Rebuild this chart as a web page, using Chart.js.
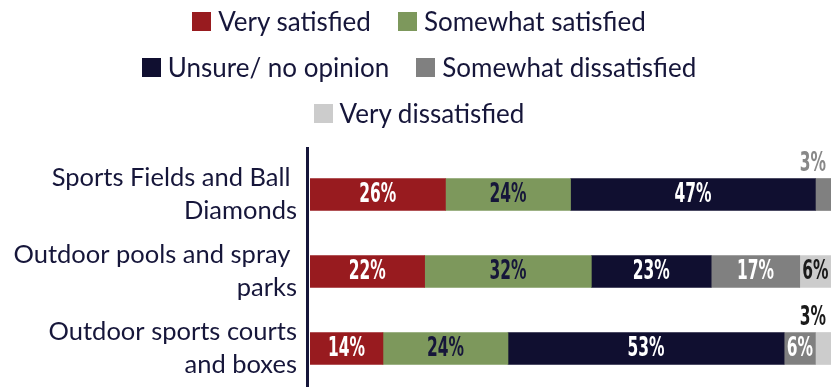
<!DOCTYPE html>
<html>
<head>
<meta charset="utf-8">
<script src="https://cdn.jsdelivr.net/npm/chart.js@4.4.1/dist/chart.umd.min.js"></script>
<style>
    html, body { margin: 0; padding: 0; background: #fff; }
    #wrap { position: relative; width: 838px; height: 387px; overflow: hidden; }
    #legend {
        position: absolute; top: -2px; left: 50%; transform: translateX(-50%);
        width: 660px; display: flex; flex-wrap: wrap; justify-content: center;
        column-gap: 27px; font: 26px Lato, sans-serif; color: #16163a; line-height: 46px;
    }
    .item { display: flex; align-items: center; white-space: nowrap; }
    .swatch { width: 19px; height: 19px; margin-right: 7px; }
    #chart { position: absolute; left: 0; top: 0; }
</style>
</head>
<body>
<div id="wrap">
    <canvas id="chart" width="838" height="387"></canvas>
    <div id="legend"></div>
</div>
<script>
const categories = [
    ['Sports Fields and Ball ', 'Diamonds'],
    ['Outdoor pools and spray ', 'parks'],
    ['Outdoor sports courts', 'and boxes']
];
const seriesNames = ['Very satisfied', 'Somewhat satisfied', 'Unsure/ no opinion', 'Somewhat dissatisfied', 'Very dissatisfied'];
const verySatisfied = [26, 22, 14];
const somewhatSatisfied = [24, 32, 24];
const unsure = [47, 23, 53];
const somewhatDissatisfied = [3, 17, 6];
const veryDissatisfied = [0, 6, 3];

const colors = ['#981b1f', '#7d985c', '#100f30', '#808080', '#cccccc'];
const labelColors = ['#ffffff', '#16163a', '#ffffff', '#ffffff', '#1a1a1a'];
const outsideColors = ['#981b1f', '#7d985c', '#100f30', '#888888', '#1a1a1a'];

const values = [verySatisfied, somewhatSatisfied, unsure, somewhatDissatisfied, veryDissatisfied];

// HTML legend, wraps into three centered rows
const legendEl = document.getElementById('legend');
seriesNames.forEach((name, i) => {
    const item = document.createElement('div');
    item.className = 'item';
    const sw = document.createElement('span');
    sw.className = 'swatch';
    sw.style.background = colors[i];
    item.appendChild(sw);
    item.appendChild(document.createTextNode(name));
    legendEl.appendChild(item);
});

// percentage labels in the middle of each segment, small ones above the bar end
const segmentLabels = {
    id: 'segmentLabels',
    afterDatasetsDraw(chart) {
        const ctx = chart.ctx;
        const area = chart.chartArea;
        ctx.save();
        // axis line, a bit taller than the plot area
        ctx.fillStyle = '#16163a';
        ctx.fillRect(area.left - 4, area.top - 9, 3, area.bottom - area.top + 9);

        ctx.font = 'bold 26px "Liberation Sans Narrow", "DejaVu Sans Condensed", sans-serif';
        ctx.textBaseline = 'middle';
        chart.data.datasets.forEach((ds, di) => {
            const meta = chart.getDatasetMeta(di);
            meta.data.forEach((bar, j) => {
                const v = ds.data[j];
                if (!v) return;
                const text = v + '%';
                let x, y, align;
                if (v >= 5) {
                    x = (bar.x + bar.base) / 2;
                    y = bar.y + 1;
                    align = 'center';
                    ctx.fillStyle = labelColors[di];
                } else {
                    x = bar.x - 5;
                    y = bar.y - bar.height / 2 - 14;
                    align = 'right';
                    ctx.fillStyle = outsideColors[di];
                }
                ctx.save();
                ctx.translate(x, y);
                ctx.scale(0.66, 1);
                ctx.textAlign = align;
                ctx.fillText(text, 0, 0);
                ctx.restore();
            });
        });
        ctx.restore();
    }
};

new Chart(document.getElementById('chart'), {
    type: 'bar',
    data: {
        labels: categories,
        datasets: seriesNames.map((name, i) => ({
            label: name,
            data: values[i],
            backgroundColor: colors[i],
            borderWidth: 0,
            barThickness: 32
        }))
    },
    options: {
        indexAxis: 'y',
        responsive: false,
        animation: false,
        layout: { padding: { top: 156, right: 7, left: 0, bottom: 0 } },
        plugins: {
            legend: { display: false },
            tooltip: { enabled: false }
        },
        scales: {
            x: {
                stacked: true,
                min: 0,
                max: 100,
                display: false
            },
            y: {
                stacked: true,
                grid: { display: false, drawTicks: false },
                border: { display: false },
                ticks: {
                    padding: 13,
                    color: '#16163a',
                    font: { family: 'Lato', size: 25.5, lineHeight: 1.28 }
                },
                afterFit(scale) {
                    scale.width = 310;
                    scale.paddingTop = 0;
                    scale.paddingBottom = 0;
                }
            }
        }
    },
    plugins: [segmentLabels]
});
</script>
</body>
</html>
